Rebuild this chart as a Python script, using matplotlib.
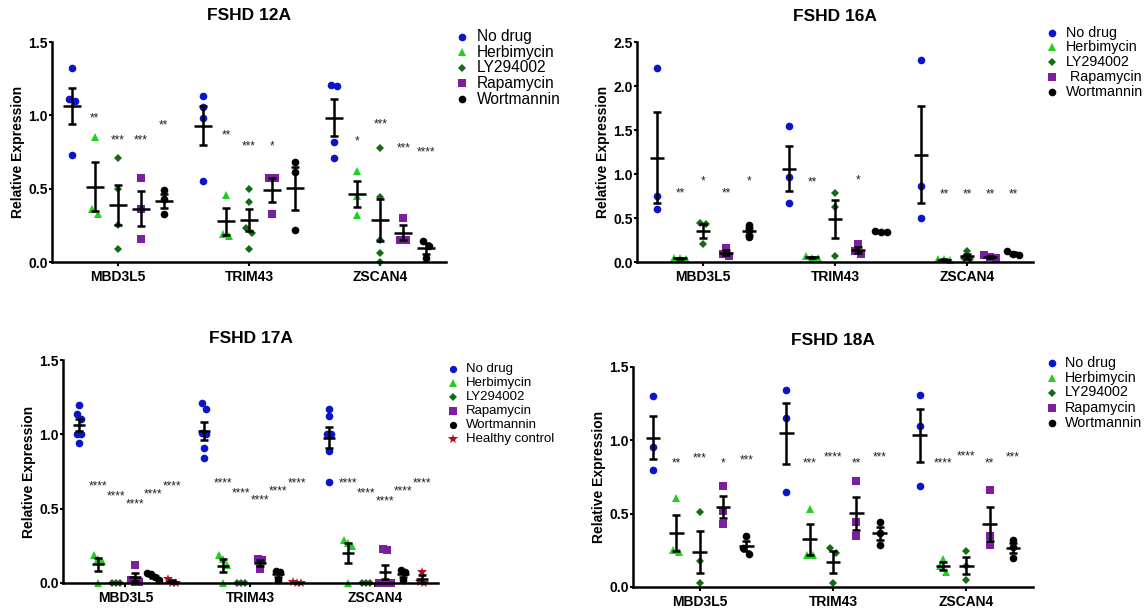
import matplotlib
matplotlib.use('Agg')
import numpy as np
import matplotlib.pyplot as plt
from matplotlib.lines import Line2D
from matplotlib.ticker import FormatStrFormatter

plt.rcParams['font.family'] = ['Liberation Sans', 'DejaVu Sans']

# genes & treatments
genes = ['MBD3L5', 'TRIM43', 'ZSCAN4']
drugs = ['No drug', 'Herbimycin', 'LY294002', 'Rapamycin', 'Wortmannin']
drugs_17a = drugs + ['Healthy control']

# replicate values, per gene -> per treatment
v12a = [
    [[1.32, 1.11, 1.10, 0.73], [0.85, 0.33, 0.36], [0.71, 0.50, 0.25, 0.09], [0.57, 0.36, 0.16], [0.49, 0.43, 0.33]],
    [[1.13, 1.06, 0.98, 0.55], [0.46, 0.19, 0.18], [0.50, 0.41, 0.23, 0.20, 0.09], [0.575, 0.57, 0.33], [0.68, 0.615, 0.215]],
    [[1.20, 1.21, 0.82, 0.71], [0.62, 0.45, 0.32], [0.78, 0.44, 0.15, 0.06, 0.0], [0.30, 0.15, 0.15], [0.145, 0.11, 0.025]],
]
s12a = [['', '**', '***', '***', '**'], ['', '**', '***', '*', ''], ['', '*', '***', '***', '****']]
sy12a = [[0, 0.98, 0.83, 0.83, 0.93], [0, 0.86, 0.785, 0.785, 0], [0, 0.82, 0.94, 0.775, 0.75]]

v16a = [
    [[2.21, 0.75, 0.60], [0.03, 0.04, 0.05], [0.44, 0.43, 0.20], [0.16, 0.09, 0.07], [0.42, 0.35, 0.28]],
    [[1.54, 0.97, 0.67], [0.07, 0.05, 0.04], [0.78, 0.62, 0.07], [0.20, 0.13, 0.09], [0.34, 0.35, 0.34]],
    [[2.30, 0.86, 0.50], [0.03, 0.03, 0.02], [0.12, 0.05, 0.03], [0.08, 0.06, 0.04], [0.13, 0.09, 0.08]],
]
s16a = [['', '**', '*', '**', '*'], ['', '**', '', '*', ''], ['', '**', '**', '**', '**']]
sy16a = [[0, 0.78, 0.92, 0.78, 0.92], [0, 0.90, 0, 0.93, 0], [0, 0.765, 0.765, 0.765, 0.765]]

v17a = [
    [[1.20, 1.14, 1.10, 1.0, 1.0, 0.94], [0.19, 0.16, 0.15, 0.0], [0.003, 0.0, 0.001],
     [0.12, 0.02, 0.01, 0.01], [0.065, 0.06, 0.04, 0.02], [0.03, 0.0, 0.0]],
    [[1.21, 1.17, 1.01, 1.0, 0.91, 0.84], [0.19, 0.16, 0.12, 0.0], [0.002, 0.0, 0.001],
     [0.16, 0.155, 0.095], [0.08, 0.075, 0.02], [0.005, 0.0, 0.0]],
    [[1.17, 1.12, 1.0, 1.0, 0.89, 0.68], [0.29, 0.27, 0.25, 0.0], [0.002, 0.0, 0.001],
     [0.23, 0.22, 0.0, 0.0, 0.0, 0.0], [0.085, 0.075, 0.02], [0.075, 0.0, 0.005]],
]
s17a = [['', '****', '****', '****', '****', '****']] * 3
sy17a = [[0, 0.65, 0.58, 0.53, 0.595, 0.65], [0, 0.672, 0.604, 0.553, 0.616, 0.672],
         [0, 0.672, 0.604, 0.548, 0.616, 0.672]]

v18a = [
    [[1.30, 0.955, 0.80], [0.61, 0.24, 0.25], [0.51, 0.18, 0.03], [0.69, 0.52, 0.43], [0.345, 0.265, 0.225]],
    [[1.34, 1.15, 0.65], [0.535, 0.22, 0.22], [0.265, 0.23, 0.025], [0.72, 0.44, 0.345], [0.445, 0.365, 0.285]],
    [[1.31, 1.10, 0.69], [0.19, 0.14, 0.10], [0.245, 0.14, 0.05], [0.66, 0.345, 0.285], [0.32, 0.27, 0.20]],
]
s18a = [['', '**', '***', '*', '***'], ['', '***', '****', '**', '***'], ['', '****', '****', '**', '***']]
sy18a = [[0, 0.84, 0.875, 0.84, 0.865], [0, 0.84, 0.885, 0.84, 0.885], [0, 0.84, 0.89, 0.84, 0.88]]

# style per treatment
colors = ['#0a14c8', '#1fd11f', '#136b13', '#7a1f9e', '#000000', '#b0121b']
markers = ['o', '^', 'D', 's', 'o', '*']
msizes = [5.5, 5.8, 4.2, 5.4, 5.5, 7.5]

W, H = 1147, 611
fig = plt.figure(figsize=(W / 100, H / 100), dpi=100)


def px_axes(l, t, r, b):
    return fig.add_axes([l / W, 1 - b / H, (r - l) / W, (b - t) / H])


def swarm(vals, dy):
    # puts points with nearly equal values side by side, centred
    order = np.argsort(vals)[::-1]
    offs = np.zeros(len(vals))
    cluster = [order[0]]
    for i in order[1:]:
        if abs(vals[cluster[-1]] - vals[i]) < dy:
            cluster.append(i)
        else:
            k = len(cluster)
            offs[cluster] = np.arange(k) - (k - 1) / 2
            cluster = [i]
    k = len(cluster)
    offs[cluster] = np.arange(k) - (k - 1) / 2
    return offs


def draw_panel(ax, title, vals, stars, star_y, ymax, step, hw, title_pad, ax_px, spread=6):
    n = len(vals[0])
    wpx, hpx = ax_px
    ax.set_xlim(-0.5, 2.5)
    ax.set_ylim(0, ymax)
    dx = spread / (wpx / 3.0)
    dy = 6 * ymax / hpx
    for g in range(3):
        for t in range(n):
            v = np.array(vals[g][t], dtype=float)
            xc = g + (t - (n - 1) / 2) * step
            xs = xc + swarm(v, dy) * dx
            ax.plot(xs, v, linestyle='none', marker=markers[t], color=colors[t],
                    markersize=msizes[t], markeredgewidth=0, zorder=2, clip_on=False)
            m = v.mean()
            se = v.std(ddof=1) / np.sqrt(len(v))
            ax.errorbar([xc], [m], yerr=[se], fmt='none', ecolor='black', elinewidth=1.8,
                        capsize=2.9, capthick=1.8, zorder=3)
            ax.hlines(m, xc - hw, xc + hw, color='black', linewidth=1.8, zorder=3)
            if stars[g][t]:
                ax.text(xc, star_y[g][t], stars[g][t], ha='center', va='center',
                        fontsize=8.5, color='#222222')
    ax.spines['top'].set_visible(False)
    ax.spines['right'].set_visible(False)
    ax.spines['left'].set_linewidth(1.8)
    ax.spines['bottom'].set_linewidth(1.8)
    ax.set_yticks(np.arange(0, ymax + 0.01, 0.5))
    ax.yaxis.set_major_formatter(FormatStrFormatter('%.1f'))
    ax.set_xticks(range(3))
    ax.set_xticklabels(genes)
    ax.tick_params(axis='both', width=1.5, labelsize=10)
    ax.tick_params(axis='y', length=2.2, pad=1)
    ax.tick_params(axis='x', length=3, pad=3)
    for lab in ax.get_xticklabels() + ax.get_yticklabels():
        lab.set_fontweight('bold')
    ax.set_ylabel('Relative Expression', fontsize=10, fontweight='bold', labelpad=2.5)
    ax.set_title(title, fontsize=12.5, fontweight='bold', pad=title_pad)


def draw_legend(labels, xm, xt, ys, size, mscale):
    for i, lab in enumerate(labels):
        fig.add_artist(Line2D([xm / W], [1 - ys[i] / H], transform=fig.transFigure,
                              linestyle='none', marker=markers[i], color=colors[i],
                              markersize=msizes[i] * mscale, markeredgewidth=0))
        fig.text(xt / W, 1 - ys[i] / H, lab, ha='left', va='center', fontsize=size)


ax1 = px_axes(52, 42, 446, 262)
draw_panel(ax1, 'FSHD 12A', v12a, s12a, sy12a, 1.5, 0.175, 0.069, 16, (394, 220))
ax2 = px_axes(637, 42, 1033, 262)
draw_panel(ax2, 'FSHD 16A', v16a, s16a, sy16a, 2.5, 0.175, 0.053, 15, (396, 220))
ax3 = px_axes(63, 360, 438, 583)
draw_panel(ax3, 'FSHD 17A', v17a, s17a, sy17a, 1.5, 0.149, 0.048, 12, (375, 223), spread=4)
ax4 = px_axes(633, 367, 1033, 587)
draw_panel(ax4, 'FSHD 18A', v18a, s18a, sy18a, 1.5, 0.175, 0.056, 16, (400, 220))

draw_legend(drugs, 462, 477, [36.7, 52.3, 68.0, 83.3, 99.0], 11.2, 1.0)
draw_legend(['No drug', 'Herbimycin', 'LY294002', ' Rapamycin', 'Wortmannin'],
            1052, 1066, [33.3, 47.3, 61.7, 76.7, 91.7], 10.3, 1.0)
draw_legend(drugs_17a, 453, 466, [369.3, 382.7, 396.7, 411.0, 425.0, 439.0], 9.5, 0.95)
draw_legend(drugs, 1052, 1065, [363.0, 378.0, 392.5, 408.0, 423.0], 10.3, 1.0)

fig.savefig('out.png', dpi=100)
